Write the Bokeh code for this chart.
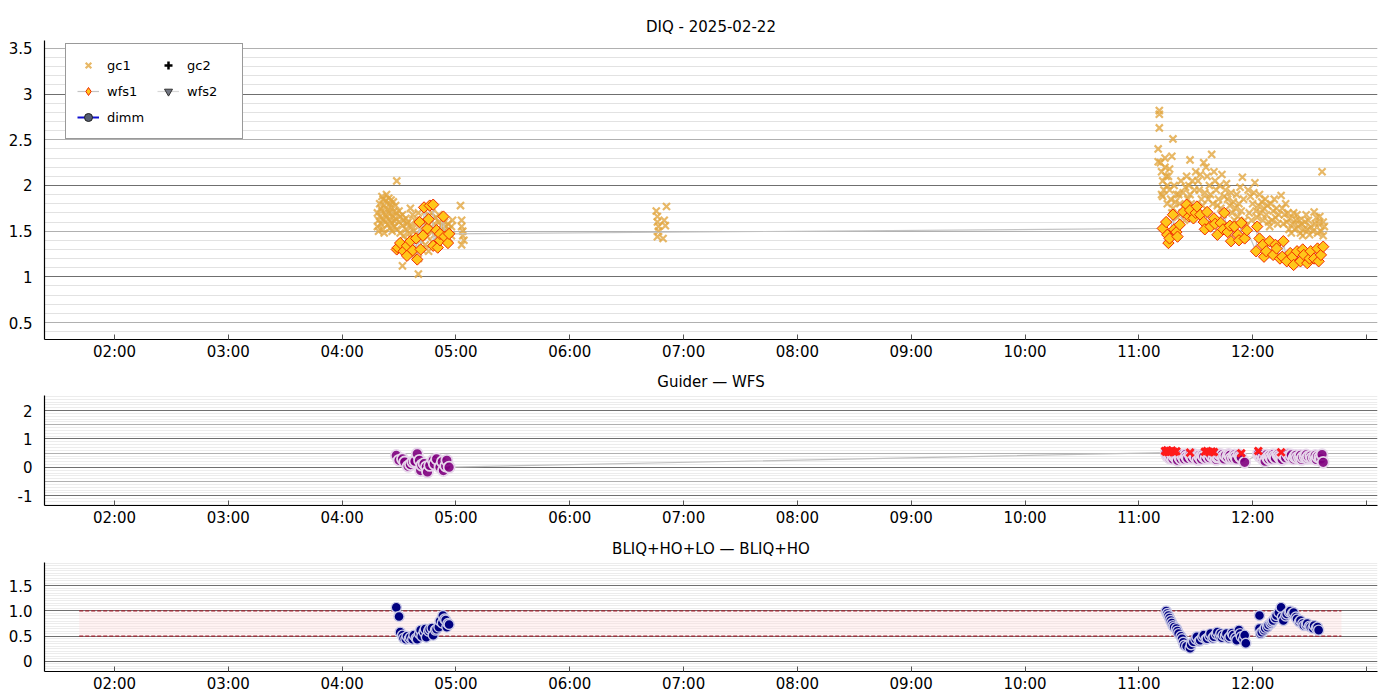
import numpy as np
from bokeh.plotting import figure
from bokeh.layouts import column
from bokeh.models import Range1d, FixedTicker, Grid, Legend, LegendItem
from bokeh.embed import file_html
from bokeh.resources import INLINE

FONT = "DejaVu Sans"
NAN = float("nan")

# ---------------- axis ticks / labels ----------------
X_TICKS = [2, 3, 4, 5, 6, 7, 8, 9, 10, 11, 12, 13]
X_LABELS = ["02:00", "03:00", "04:00", "05:00", "06:00", "07:00", "08:00",
            "09:00", "10:00", "11:00", "12:00", ""]
TOP_Y_TICKS = [0.5, 1.0, 1.5, 2.0, 2.5, 3.0, 3.5]
TOP_Y_LABELS = ["0.5", "1", "1.5", "2", "2.5", "3", "3.5"]
MID_Y_TICKS = [-1.0, 0.0, 1.0, 2.0]
MID_Y_LABELS = ["-1", "0", "1", "2"]
BOT_Y_TICKS = [0.0, 0.5, 1.0, 1.5]
BOT_Y_LABELS = ["0", "0.5", "1.0", "1.5"]

TITLES = ["DIQ - 2025-02-22", "Guider \u2014 WFS", "BLIQ+HO+LO \u2014 BLIQ+HO"]

# ---------------- data (time in decimal hours UT, value) ----------------
GC1_POINTS = [
    (4.31, 1.55), (4.31, 1.70), (4.32, 1.62), (4.32, 1.50), (4.33, 1.80), (4.33, 1.66),
    (4.34, 1.58), (4.34, 1.75), (4.35, 1.88), (4.35, 1.72), (4.36, 1.63), (4.36, 1.52),
    (4.36, 1.85), (4.37, 1.78), (4.38, 1.68), (4.38, 1.60), (4.38, 1.83), (4.37, 1.48),
    (4.39, 1.90), (4.40, 1.74), (4.40, 1.57), (4.39, 1.65), (4.41, 1.86), (4.41, 1.70),
    (4.42, 1.62), (4.42, 1.53), (4.42, 1.80), (4.43, 1.76), (4.44, 1.67), (4.44, 1.59),
    (4.43, 1.84), (4.44, 1.50), (4.45, 1.82), (4.45, 1.71), (4.46, 1.61), (4.46, 1.55),
    (4.47, 1.78), (4.47, 1.64), (4.48, 1.52), (4.48, 1.70), (4.48, 2.05), (4.50, 1.72),
    (4.50, 1.60), (4.51, 1.48), (4.51, 1.66), (4.53, 1.12), (4.53, 1.68), (4.53, 1.56),
    (4.54, 1.62), (4.54, 1.45), (4.56, 1.64), (4.56, 1.52), (4.57, 1.58), (4.57, 1.40),
    (4.58, 1.60), (4.59, 1.48), (4.59, 1.35), (4.60, 1.75), (4.61, 1.55), (4.61, 1.42),
    (4.62, 1.30), (4.62, 1.68), (4.63, 1.50), (4.64, 1.62), (4.64, 1.25), (4.66, 1.58),
    (4.66, 1.45), (4.67, 1.20), (4.67, 1.70), (4.67, 1.03), (4.69, 1.52), (4.69, 1.40),
    (4.70, 1.30), (4.70, 1.62), (4.72, 1.60), (4.72, 1.48), (4.73, 1.35), (4.73, 1.72),
    (4.75, 1.55), (4.75, 1.44), (4.76, 1.66), (4.76, 1.28), (4.78, 1.62), (4.78, 1.50),
    (4.79, 1.38), (4.79, 1.70), (4.81, 1.58), (4.81, 1.46), (4.82, 1.65), (4.82, 1.35),
    (4.84, 1.52), (4.84, 1.42), (4.85, 1.68), (4.85, 1.60), (4.87, 1.56), (4.87, 1.48),
    (4.88, 1.62), (4.88, 1.40), (4.90, 1.60), (4.90, 1.50), (4.91, 1.45), (4.91, 1.55),
    (4.93, 1.58), (4.93, 1.48), (4.94, 1.42), (4.94, 1.52), (4.96, 1.55), (4.96, 1.45),
    (4.97, 1.62),
    (5.04, 1.78), (5.05, 1.62), (5.05, 1.55), (5.06, 1.50), (5.06, 1.45), (5.07, 1.40),
    (5.05, 1.35),
    (6.76, 1.72), (6.77, 1.66), (6.77, 1.60), (6.78, 1.55), (6.78, 1.50), (6.77, 1.44),
    (6.82, 1.42), (6.85, 1.77), (6.83, 1.62), (6.84, 1.56),
    (11.17, 2.40), (11.18, 2.82), (11.18, 2.78), (11.18, 2.63), (11.17, 2.26), (11.20, 1.90),
    (11.29, 2.32), (11.30, 2.51), (11.19, 2.25), (11.20, 2.15), (11.21, 2.05), (11.22, 1.95),
    (11.23, 2.20), (11.24, 2.10), (11.25, 2.00), (11.26, 2.10), (11.27, 1.95), (11.28, 1.85),
    (11.30, 1.75), (11.31, 2.00), (11.33, 1.90), (11.35, 1.90), (11.36, 1.80), (11.38, 1.70),
    (11.40, 1.62), (11.41, 1.98), (11.42, 2.10), (11.44, 2.00), (11.45, 1.90), (11.46, 1.80),
    (11.48, 1.72), (11.45, 2.28), (11.50, 2.15), (11.52, 2.05), (11.53, 1.95), (11.55, 1.85),
    (11.56, 1.78), (11.57, 2.25), (11.59, 2.20), (11.60, 2.10), (11.62, 2.00), (11.63, 1.90),
    (11.65, 1.80), (11.64, 2.34), (11.67, 2.05), (11.68, 1.95), (11.70, 1.85), (11.72, 1.75),
    (11.74, 1.68), (11.73, 2.12), (11.76, 1.95), (11.78, 1.85), (11.80, 1.78), (11.82, 1.70),
    (11.84, 1.62), (11.86, 1.90), (11.88, 1.80), (11.90, 1.72), (11.91, 2.09), (11.93, 1.62),
    (11.94, 1.55), (11.96, 1.95), (11.98, 1.88), (12.00, 1.80), (12.02, 2.03), (12.03, 1.72),
    (12.04, 1.65), (12.06, 1.90), (12.08, 1.82), (12.10, 1.75), (12.12, 1.68), (12.14, 1.60),
    (12.16, 1.80), (12.18, 1.72), (12.20, 1.65), (12.22, 1.58), (12.25, 1.89), (12.26, 1.75),
    (12.28, 1.68), (12.30, 1.60), (12.32, 1.52), (12.34, 1.48), (12.36, 1.70), (12.38, 1.62),
    (12.40, 1.55), (12.42, 1.48), (12.44, 1.45), (12.46, 1.60), (12.48, 1.52), (12.50, 1.46),
    (12.54, 1.71), (12.56, 1.65), (12.58, 1.58), (12.60, 1.50), (12.62, 1.45), (12.63, 1.55),
    (12.61, 2.15),
    (11.21, 1.88), (11.23, 2.30), (11.25, 1.80), (11.27, 2.18), (11.29, 1.70), (11.32, 1.82),
    (11.34, 1.65), (11.37, 2.05), (11.39, 1.92), (11.43, 1.85), (11.47, 2.05), (11.49, 1.95),
    (11.51, 1.75), (11.54, 2.12), (11.58, 1.92), (11.61, 1.85), (11.66, 2.15), (11.69, 1.78),
    (11.71, 2.00), (11.75, 1.88), (11.77, 2.02), (11.81, 1.92), (11.83, 1.82), (11.85, 1.75),
    (11.87, 1.66), (11.89, 1.98), (11.92, 1.85), (11.97, 1.70), (11.99, 1.62), (12.01, 1.92),
    (12.05, 1.78), (12.07, 1.70), (12.09, 1.62), (12.11, 1.85), (12.13, 1.78), (12.15, 1.55),
    (12.17, 1.62), (12.19, 1.85), (12.21, 1.75), (12.23, 1.68), (12.27, 1.58), (12.29, 1.80),
    (12.31, 1.70), (12.33, 1.64), (12.35, 1.58), (12.37, 1.52), (12.39, 1.68), (12.41, 1.62),
    (12.43, 1.58), (12.45, 1.52), (12.47, 1.68), (12.49, 1.62), (12.51, 1.55), (12.53, 1.50),
    (12.55, 1.58), (12.57, 1.48), (12.59, 1.66), (12.62, 1.60),
]

WFS1_POINTS = [
    (4.48, 1.30), (4.49, 1.32), (4.51, 1.37), (4.54, 1.28), (4.57, 1.34), (4.57, 1.23),
    (4.60, 1.39), (4.62, 1.29), (4.65, 1.42), (4.66, 1.19), (4.68, 1.60), (4.69, 1.30),
    (4.71, 1.45), (4.72, 1.76), (4.75, 1.53), (4.76, 1.63), (4.77, 1.78), (4.80, 1.79),
    (4.80, 1.34), (4.83, 1.51), (4.84, 1.32), (4.86, 1.40), (4.86, 1.47), (4.89, 1.66),
    (4.90, 1.44), (4.93, 1.37), (4.94, 1.47),
    (11.21, 1.53), (11.24, 1.60), (11.25, 1.46), (11.26, 1.37), (11.27, 1.42), (11.30, 1.68),
    (11.31, 1.52), (11.33, 1.49), (11.34, 1.44), (11.36, 1.57), (11.39, 1.71), (11.42, 1.79),
    (11.44, 1.66), (11.45, 1.73), (11.48, 1.64), (11.50, 1.70), (11.51, 1.77), (11.54, 1.68),
    (11.57, 1.60), (11.58, 1.52), (11.60, 1.71), (11.63, 1.55), (11.66, 1.64), (11.67, 1.58),
    (11.69, 1.46), (11.72, 1.59), (11.74, 1.52), (11.75, 1.70), (11.78, 1.49), (11.80, 1.56),
    (11.81, 1.39), (11.84, 1.55), (11.87, 1.46), (11.88, 1.40), (11.90, 1.59), (11.93, 1.42),
    (11.95, 1.51),
    (12.03, 1.28), (12.04, 1.55), (12.06, 1.42), (12.09, 1.35), (12.10, 1.22), (12.12, 1.28),
    (12.15, 1.39), (12.18, 1.24), (12.20, 1.35), (12.21, 1.31), (12.24, 1.20), (12.26, 1.22),
    (12.27, 1.39), (12.30, 1.17), (12.33, 1.26), (12.35, 1.22), (12.36, 1.13), (12.39, 1.28),
    (12.42, 1.17), (12.44, 1.30), (12.45, 1.24), (12.48, 1.15), (12.50, 1.20), (12.51, 1.28),
    (12.54, 1.20), (12.57, 1.31), (12.58, 1.17), (12.60, 1.24), (12.62, 1.33),
]

# series with no valid samples this night
GC2_POINTS = [(NAN, NAN)]
WFS2_POINTS = [(NAN, NAN)]
DIMM_POINTS = [(NAN, NAN)]

GUIDER_WFS_POINTS = [
    (4.476, 0.42), (4.50, 0.25), (4.53, 0.30), (4.55, 0.19), (4.58, 0.04), (4.60, 0.10),
    (4.62, 0.19), (4.64, 0.22), (4.66, 0.48), (4.68, 0.25), (4.69, -0.11), (4.70, 0.08),
    (4.72, 0.13), (4.74, 0.02), (4.75, -0.16), (4.77, 0.07), (4.80, 0.25), (4.81, 0.12),
    (4.83, 0.30), (4.86, 0.01), (4.88, 0.20), (4.89, -0.11), (4.91, 0.05), (4.92, 0.25),
    (4.94, 0.01),
    (11.24, 0.52), (11.25, 0.40), (11.26, 0.46), (11.27, 0.33), (11.28, 0.38), (11.29, 0.48),
    (11.30, 0.30), (11.31, 0.40), (11.32, 0.42), (11.33, 0.35), (11.34, 0.25), (11.35, 0.45),
    (11.36, 0.35), (11.37, 0.30), (11.38, 0.44), (11.39, 0.37), (11.40, 0.30), (11.41, 0.45),
    (11.42, 0.38), (11.43, 0.32), (11.45, 0.45), (11.46, 0.38), (11.47, 0.33), (11.48, 0.46),
    (11.49, 0.40), (11.50, 0.34), (11.52, 0.28), (11.53, 0.42), (11.54, 0.36), (11.55, 0.30),
    (11.56, 0.44), (11.57, 0.38), (11.59, 0.32), (11.60, 0.46), (11.61, 0.40), (11.62, 0.34),
    (11.63, 0.47), (11.64, 0.40), (11.66, 0.35), (11.67, 0.44), (11.68, 0.28), (11.69, 0.36),
    (11.70, 0.38), (11.71, 0.46), (11.73, 0.44), (11.74, 0.36), (11.75, 0.30), (11.76, 0.42),
    (11.78, 0.36), (11.79, 0.46), (11.80, 0.42), (11.81, 0.32), (11.83, 0.33), (11.84, 0.44),
    (11.85, 0.38), (11.86, 0.30), (11.88, 0.45), (11.89, 0.38), (11.90, 0.35), (11.93, 0.18),
    (12.05, 0.48), (12.06, 0.40), (12.07, 0.38), (12.08, 0.45), (12.09, 0.30), (12.10, 0.36),
    (12.11, 0.22), (12.12, 0.44), (12.13, 0.35), (12.14, 0.30), (12.15, 0.42), (12.16, 0.36),
    (12.17, 0.30), (12.18, 0.45), (12.19, 0.38), (12.20, 0.33), (12.22, 0.45), (12.23, 0.40),
    (12.24, 0.35), (12.25, 0.30), (12.26, 0.28), (12.27, 0.44), (12.28, 0.40), (12.29, 0.34),
    (12.31, 0.46), (12.32, 0.40), (12.33, 0.36), (12.34, 0.44), (12.36, 0.30), (12.37, 0.38),
    (12.38, 0.42), (12.39, 0.34), (12.41, 0.35), (12.42, 0.42), (12.43, 0.28), (12.44, 0.36),
    (12.46, 0.38), (12.47, 0.44), (12.48, 0.32), (12.49, 0.38), (12.51, 0.40), (12.52, 0.33),
    (12.54, 0.34), (12.55, 0.42), (12.56, 0.28), (12.57, 0.38), (12.59, 0.36), (12.60, 0.30),
    (12.61, 0.45), (12.62, 0.18),
]

GUIDER_WFS_FLAG_POINTS = [
    (11.23, 0.58), (11.24, 0.55), (11.25, 0.60), (11.26, 0.53), (11.27, 0.57), (11.28, 0.55),
    (11.29, 0.59), (11.31, 0.54), (11.33, 0.57), (11.45, 0.52), (11.58, 0.55), (11.60, 0.58),
    (11.62, 0.53), (11.64, 0.56), (11.66, 0.54), (11.90, 0.50), (12.05, 0.58), (12.25, 0.53),
]

BLIQ_POINTS = [
    (4.476, 1.07), (4.50, 0.89), (4.51, 0.58), (4.53, 0.52), (4.54, 0.46), (4.56, 0.44),
    (4.57, 0.50), (4.59, 0.45), (4.60, 0.48), (4.62, 0.44), (4.63, 0.52), (4.65, 0.46),
    (4.66, 0.44), (4.68, 0.55), (4.69, 0.62), (4.70, 0.50), (4.72, 0.58), (4.73, 0.64),
    (4.74, 0.48), (4.76, 0.60), (4.77, 0.64), (4.79, 0.66), (4.80, 0.52), (4.82, 0.62),
    (4.83, 0.64), (4.85, 0.68), (4.86, 0.80), (4.88, 0.76), (4.885, 0.91), (4.90, 0.84),
    (4.91, 0.82), (4.92, 0.68), (4.93, 0.75), (4.94, 0.73),
    (11.24, 1.00), (11.25, 0.95), (11.26, 0.91), (11.27, 0.86), (11.28, 0.81), (11.29, 0.76),
    (11.30, 0.71), (11.31, 0.68), (11.33, 0.65), (11.34, 0.60), (11.35, 0.55), (11.37, 0.50),
    (11.38, 0.45), (11.39, 0.38), (11.40, 0.32), (11.42, 0.30), (11.45, 0.26), (11.46, 0.33),
    (11.48, 0.39), (11.50, 0.44), (11.51, 0.49), (11.53, 0.40), (11.54, 0.42), (11.56, 0.48),
    (11.57, 0.52), (11.59, 0.44), (11.60, 0.45), (11.62, 0.50), (11.63, 0.55), (11.65, 0.46),
    (11.66, 0.49), (11.68, 0.54), (11.69, 0.58), (11.71, 0.50), (11.72, 0.55), (11.73, 0.47),
    (11.74, 0.52), (11.76, 0.50), (11.77, 0.55), (11.79, 0.46), (11.80, 0.49), (11.82, 0.56),
    (11.83, 0.52), (11.85, 0.47), (11.86, 0.42), (11.88, 0.62), (11.89, 0.55), (11.90, 0.49),
    (11.92, 0.44), (11.93, 0.52), (11.94, 0.36),
    (12.06, 0.91), (12.06, 0.65), (12.07, 0.55), (12.08, 0.58), (12.10, 0.62), (12.11, 0.66),
    (12.13, 0.68), (12.14, 0.72), (12.16, 0.75), (12.17, 0.78), (12.18, 0.81), (12.20, 0.86),
    (12.21, 0.91), (12.23, 0.97), (12.25, 1.07), (12.26, 0.88), (12.27, 0.81), (12.29, 0.90),
    (12.30, 0.94), (12.32, 0.98), (12.33, 1.00), (12.35, 0.95), (12.36, 0.97), (12.38, 0.88),
    (12.39, 0.84), (12.41, 0.78), (12.42, 0.81), (12.44, 0.75), (12.45, 0.71), (12.47, 0.72),
    (12.48, 0.75), (12.50, 0.70), (12.51, 0.68), (12.53, 0.66), (12.54, 0.71), (12.56, 0.66),
    (12.57, 0.68), (12.58, 0.62),
]

BAND_T = [1.69, 12.78]
BAND_LOW = [0.5, 0.5]
BAND_HIGH = [1.0, 1.0]


def split(points):
    return [p[0] for p in points], [p[1] for p in points]


def add_grid(p, ticks, color):
    p.add_layout(Grid(dimension=1, ticker=FixedTicker(ticks=[float(t) for t in ticks]),
                      grid_line_color=color, grid_line_width=1), "center")


def make_fig(title, height, y0, y1, yticks, ylabels, top, bottom):
    p = figure(width=1392, height=height,
               x_range=Range1d(1.385, 13.097), y_range=Range1d(y0, y1),
               output_backend="svg", toolbar_location=None,
               min_border_left=44, min_border_right=15, min_border_top=top,
               min_border_bottom=bottom, title=title)
    p.title.align = "center"
    p.title.text_font = FONT
    p.title.text_font_size = "15px"
    p.title.text_font_style = "normal"
    p.title.text_color = "#000000"
    p.title.standoff = 9
    p.outline_line_color = None
    p.xgrid.visible = False
    p.ygrid.visible = False
    p.background_fill_color = "white"
    p.border_fill_color = "white"

    xa = p.xaxis[0]
    xa.ticker = FixedTicker(ticks=X_TICKS)
    xa.major_label_overrides = {t: l for t, l in zip(X_TICKS, X_LABELS)}
    xa.major_tick_in = 5
    xa.major_tick_out = 0
    xa.major_tick_line_color = "#555555"
    xa.minor_tick_line_color = None
    xa.axis_line_color = "black"
    xa.axis_line_width = 1.2
    xa.major_label_text_font = FONT
    xa.major_label_text_font_size = "15px"
    xa.major_label_text_color = "black"
    xa.major_label_standoff = 3

    ya = p.yaxis[0]
    ya.ticker = FixedTicker(ticks=yticks)
    ya.major_label_overrides = {t: l for t, l in zip(yticks, ylabels)}
    ya.major_tick_line_color = None
    ya.minor_tick_line_color = None
    ya.axis_line_color = "black"
    ya.axis_line_width = 1.2
    ya.major_label_text_font = FONT
    ya.major_label_text_font_size = "15px"
    ya.major_label_text_color = "black"
    ya.major_label_standoff = 6
    return p


# ---------------- top panel: DIQ ----------------
p1 = make_fig(TITLES[0], 363, 0.314, 3.587, TOP_Y_TICKS, TOP_Y_LABELS, 40, 24)
add_grid(p1, np.round(np.arange(0.4, 3.6, 0.1), 2), "#e2e2e2")
add_grid(p1, [0.5, 1.5, 2.5, 3.5], "#b0b0b0")
add_grid(p1, [1.0, 2.0, 3.0], "#6f6f6f")

gt, gv = split(GC1_POINTS)
r_gc1 = p1.scatter(gt, gv, marker="x", size=10, line_color="#e2a640", line_alpha=0.8,
                   line_width=2.2)
r_gc2 = p1.scatter(*split(GC2_POINTS), marker="cross", size=10,
                   line_color="black", line_width=2.5)
wt, wv = split(WFS1_POINTS)
r_wfs1_line = p1.line(wt, wv, line_color="#c4c4c4", line_width=1.2)
r_wfs1 = p1.scatter(wt, wv, marker="square", angle=np.pi / 4, size=8,
                    fill_color="#ffc61a", line_color="#f02a00", line_width=1)
# diamond glyph used for the legend entry of wfs1 (same series, shown in legend only)
r_wfs1_key = p1.scatter(*split(GC2_POINTS), marker="diamond", size=13,
                        fill_color="#ffc61a", line_color="#f02a00", line_width=1)
w2t, w2v = split(WFS2_POINTS)
r_wfs2_line = p1.line(w2t, w2v, line_color="#d8d8d8", line_width=1.2)
r_wfs2 = p1.scatter(w2t, w2v, marker="inverted_triangle", size=10,
                    fill_color="#707480", line_color="#303030", line_width=1)
dt, dv = split(DIMM_POINTS)
r_dimm_line = p1.line(dt, dv, line_color="#1010d0", line_width=2)
r_dimm = p1.scatter(dt, dv, marker="circle", size=10, fill_color="#555d70",
                    line_color="#202020", line_width=1)

legend = Legend(items=[
    LegendItem(label="gc1", renderers=[r_gc1]),
    LegendItem(label="wfs1", renderers=[r_wfs1_line, r_wfs1_key]),
    LegendItem(label="dimm", renderers=[r_dimm_line, r_dimm]),
    LegendItem(label="gc2", renderers=[r_gc2]),
    LegendItem(label="wfs2", renderers=[r_wfs2_line, r_wfs2]),
], orientation="vertical", nrows=3, location=(21, 200))
legend.label_text_font = FONT
legend.label_text_font_size = "13px"
legend.label_text_color = "black"
legend.border_line_color = "#333333"
legend.border_line_width = 1
legend.background_fill_color = "white"
legend.background_fill_alpha = 1
legend.glyph_width = 22
legend.glyph_height = 20
legend.label_standoff = 8
legend.label_width = 44
legend.spacing = 6
legend.padding = 11
legend.margin = 0
p1.add_layout(legend)

# ---------------- middle panel: Guider - WFS ----------------
p2 = make_fig(TITLES[1], 167, -1.34, 2.53, MID_Y_TICKS, MID_Y_LABELS, 32, 25)
add_grid(p2, np.round(np.arange(-1.3, 2.55, 0.1), 2), "#ececec")
add_grid(p2, [-0.5, 0.5, 1.5], "#b0b0b0")
add_grid(p2, [-1.0, 0.0, 1.0, 2.0], "#6f6f6f")
mt, mv = split(GUIDER_WFS_POINTS)
p2.line(mt, mv, line_color="#c0c0c0", line_width=1.2)
p2.scatter(mt, mv, marker="circle", size=11, fill_color="#800080", fill_alpha=0.9,
           line_color="#e6d6ea", line_width=1.8)
ft, fv = split(GUIDER_WFS_FLAG_POINTS)
p2.scatter(ft, fv, marker="x", size=10, line_color="#ff1a1a", line_width=2.8)

# ---------------- bottom panel: BLIQ ----------------
p3 = make_fig(TITLES[2], 165, -0.2, 1.96, BOT_Y_TICKS, BOT_Y_LABELS, 32, 24)
add_grid(p3, np.round(np.arange(-0.15, 1.96, 0.05), 2), "#ececec")
add_grid(p3, [0.0, 0.5, 1.0, 1.5], "#6f6f6f")
p3.varea(x=BAND_T, y1=BAND_LOW, y2=BAND_HIGH, fill_color="#ffdede", fill_alpha=0.4)
p3.line(BAND_T, BAND_LOW, line_color="#a0202e", line_dash="4 2", line_width=1.2)
p3.line(BAND_T, BAND_HIGH, line_color="#a0202e", line_dash="4 2", line_width=1.2)
bt, bv = split(BLIQ_POINTS)
p3.scatter(bt, bv, marker="circle", size=10, fill_color="#000080",
           line_color="#c8c8e6", line_width=1.4)

layout = column(p1, p2, p3, spacing=0)
open("out.html", "w").write(file_html(layout, INLINE))
